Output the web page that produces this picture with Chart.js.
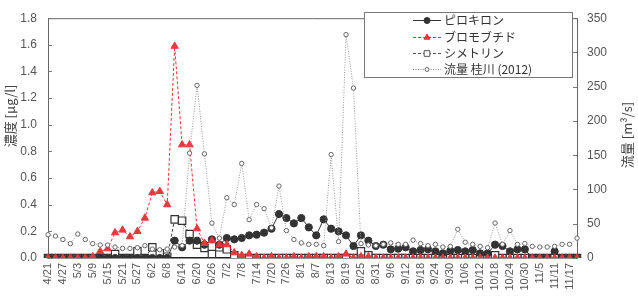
<!DOCTYPE html>
<html>
<head>
<meta charset="utf-8">
<script src="https://cdn.jsdelivr.net/npm/chart.js@4"></script>
<style>
    body { margin: 0; background: #fff; }
    canvas { display: block; }
</style>
</head>
<body>
<canvas id="chart" width="638" height="308"></canvas>
<script>
// sampling dates, every 3 days (2012)
const dates =
[
    '4/21', '4/24', '4/27', '4/30', '5/3', '5/6', '5/9', '5/12', '5/15', '5/18',
    '5/21', '5/24', '5/27', '5/30', '6/2', '6/5', '6/8', '6/11', '6/14', '6/17',
    '6/20', '6/23', '6/26', '6/29', '7/2', '7/5', '7/8', '7/11', '7/14', '7/17',
    '7/20', '7/23', '7/26', '7/29', '8/1', '8/4', '8/7', '8/10', '8/13', '8/16',
    '8/19', '8/22', '8/25', '8/28', '8/31', '9/3', '9/6', '9/9', '9/12', '9/15',
    '9/18', '9/21', '9/24', '9/27', '9/30', '10/3', '10/6', '10/9', '10/12', '10/15',
    '10/18', '10/21', '10/24', '10/27', '10/30', '11/2', '11/5', '11/8', '11/11', '11/14',
    '11/17', '11/20'
];

// concentrations [ug/l]
const pyroquilon =
[
    0, 0, 0, 0, 0, 0, 0, 0, 0, 0,
    0, 0, 0, 0, 0, 0, 0, 0.13, 0.08, 0.13,
    0.13, 0.10, 0.14, 0.10, 0.15, 0.14, 0.15, 0.17, 0.175, 0.19,
    0.22, 0.33, 0.30, 0.26, 0.30, 0.23, 0.17, 0.29, 0.22, 0.20,
    0.17, 0.09, 0.17, 0.13, 0.09, 0.10, 0.065, 0.07, 0.08, 0.05,
    0.06, 0.065, 0.05, 0.035, 0.055, 0.06, 0.05, 0.06, 0.035, 0.035,
    0.10, 0.09, 0.05, 0.065, 0.065, 0, 0, 0, 0.05, 0,
    0, 0
];

const bromobutide =
[
    0, 0, 0, 0, 0, 0, 0.01, 0.05, 0.07, 0.19,
    0.21, 0.16, 0.20, 0.30, 0.49, 0.50, 0.40, 1.59, 0.85, 0.85,
    0.22, 0.11, 0.13, 0.10, 0.10, 0.04, 0.02, 0.03, 0.01, 0,
    0.01, 0, 0, 0.01, 0, 0.01, 0.01, 0.01, 0, 0.01,
    0.03, 0, 0.01, 0.01, 0, 0, 0, 0, 0, 0,
    0, 0, 0, 0, 0, 0, 0, 0, 0, 0,
    0, 0, 0, 0, 0, 0, 0, 0, 0, 0,
    0, 0
];

const simetryn =
[
    0, 0, 0, 0, 0, 0, 0, 0, 0, 0.03,
    0, 0, 0.05, 0, 0.08, 0.035, 0.01, 0.29, 0.28, 0.18,
    0.10, 0.075, 0.03, 0.08, 0.065, 0.02, 0, 0, 0, 0,
    0, 0, 0, 0, 0, 0, 0, 0, 0, 0,
    0, 0, 0.05, 0.02, 0, 0, 0, 0, 0, 0,
    0, 0, 0, 0, 0, 0, 0, 0, 0, 0,
    0.02, 0, 0, 0, 0, 0, 0, 0, 0, 0,
    0, 0
];

// river flow, Katsura river [m3/s]
const flow =
[
    34, 32, 27, 21, 35, 27, 21, 19, 19, 16,
    14, 14, 15, 18, 13, 12, 13, 16, 18, 153,
    252, 152, 51, 29, 88, 78, 138, 56, 78, 72,
    44, 105, 40, 27, 22, 20, 20, 18, 151, 24,
    326, 248, 21, 19, 18, 20, 22, 20, 20, 26,
    21, 18, 20, 16, 17, 42, 23, 20, 17, 15,
    51, 20, 40, 20, 21, 17, 16, 16, 17, 20,
    20, 29
];

const concTicks = [0, 0.2, 0.4, 0.6, 0.8, 1.0, 1.2, 1.4, 1.6, 1.8];
const flowTicks = [0, 50, 100, 150, 200, 250, 300, 350];

const legendItems =
[
    { text: 'ピロキロン', color: '#333', dash: [], style: 'circle', radius: 3, fill: '#333' },
    { text: 'ブロモブチド', color: '#e8383d', dash: [3, 2], style: 'triangle', radius: 3.5, fill: '#e8383d' },
    { text: 'シメトリン', color: '#555', dash: [3, 2], style: 'rect', radius: 4, fill: '#fff' },
    { text: '流量 桂川 (2012)', color: '#888', dash: [1, 1.5], style: 'circle', radius: 2, fill: '#fff' }
];

const TICK_FONT = { family: 'Liberation Sans, Arial, sans-serif', size: 12 };
const JP_FONT = '"Noto Sans CJK JP", sans-serif';

const framePlugin =
{
    id: 'frame',
    afterDraw(chart)
    {
        const ctx = chart.ctx;
        const area = chart.chartArea;
        const yScale = chart.scales.y;
        const y1Scale = chart.scales.y1;

        ctx.save();

        // top border
        ctx.strokeStyle = '#666';
        ctx.lineWidth = 1;
        ctx.beginPath();
        ctx.moveTo(area.left, area.top + 0.5);
        ctx.lineTo(area.right, area.top + 0.5);
        ctx.stroke();

        // inward tick marks
        ctx.strokeStyle = '#777';
        ctx.beginPath();
        for (const v of concTicks)
        {
            const py = Math.round(yScale.getPixelForValue(v)) + 0.5;
            ctx.moveTo(area.left, py);
            ctx.lineTo(area.left + 4, py);
        }
        for (const v of flowTicks)
        {
            const py = Math.round(y1Scale.getPixelForValue(v)) + 0.5;
            ctx.moveTo(area.right - 4, py);
            ctx.lineTo(area.right, py);
        }
        ctx.stroke();

        // axis titles
        ctx.fillStyle = '#444';
        ctx.font = '13px ' + JP_FONT;
        ctx.textAlign = 'center';
        ctx.textBaseline = 'middle';

        ctx.save();
        ctx.translate(10, 116);
        ctx.rotate(-Math.PI / 2);
        ctx.fillText('濃度 [μg/l]', 0, 0);
        ctx.restore();

        ctx.save();
        ctx.translate(627, 135);
        ctx.rotate(-Math.PI / 2);
        ctx.fillText('流量 [m³/s]', 0, 0);
        ctx.restore();

        // legend box
        const box = { x: 364.5, y: 12.5, w: 208, h: 65 };
        ctx.fillStyle = '#fff';
        ctx.fillRect(box.x, box.y, box.w, box.h);
        ctx.strokeStyle = '#777';
        ctx.setLineDash([]);
        ctx.strokeRect(box.x, box.y, box.w, box.h);

        const rows = [20, 37, 53, 69];
        legendItems.forEach((item, i) =>
        {
            const ly = rows[i] + 0.5;
            ctx.strokeStyle = item.color;
            ctx.lineWidth = 1;
            ctx.setLineDash(item.dash);
            ctx.beginPath();
            ctx.moveTo(413, ly);
            ctx.lineTo(441, ly);
            ctx.stroke();
            ctx.setLineDash([]);

            ctx.fillStyle = item.fill;
            ctx.strokeStyle = item.color === '#888' ? '#666' : item.color;
            Chart.helpers.drawPoint(ctx, { pointStyle: item.style, radius: item.radius, borderWidth: 1, rotation: 0 }, 427, ly);

            ctx.fillStyle = '#333';
            ctx.font = '12px ' + JP_FONT;
            ctx.textAlign = 'left';
            ctx.textBaseline = 'middle';
            ctx.fillText(item.text, 444, ly);
        });

        ctx.restore();
    }
};

const data =
{
    labels: dates,
    datasets:
    [
        {
            label: 'ピロキロン',
            data: pyroquilon,
            yAxisID: 'y',
            borderColor: '#333',
            backgroundColor: '#333',
            borderWidth: 1,
            pointStyle: 'circle',
            pointRadius: 3.6,
            pointBorderWidth: 1,
            tension: 0,
            order: 3
        },
        {
            label: 'ブロモブチド',
            data: bromobutide,
            yAxisID: 'y',
            borderColor: '#e8383d',
            backgroundColor: '#e8383d',
            borderWidth: 1,
            borderDash: [3, 2],
            pointStyle: 'triangle',
            pointRadius: 4.2,
            pointBorderWidth: 1,
            tension: 0,
            order: 2
        },
        {
            label: 'シメトリン',
            data: simetryn,
            yAxisID: 'y',
            borderColor: '#444',
            backgroundColor: '#fff',
            pointBorderColor: '#333',
            borderWidth: 1,
            borderDash: [3, 2],
            pointStyle: 'rect',
            pointRadius: 5.2,
            pointBorderWidth: 1.2,
            tension: 0,
            order: 4
        },
        {
            label: '流量 桂川 (2012)',
            data: flow,
            yAxisID: 'y1',
            borderColor: '#999',
            backgroundColor: '#fff',
            pointBorderColor: '#666',
            borderWidth: 1,
            borderDash: [1, 1.5],
            pointStyle: 'circle',
            pointRadius: 2.2,
            pointBorderWidth: 1,
            tension: 0,
            order: 1
        }
    ]
};

const config =
{
    type: 'line',
    data: data,
    options:
    {
        responsive: false,
        animation: false,
        layout:
        {
            padding: { top: 8, left: 0, right: 0, bottom: 0 }
        },
        plugins:
        {
            legend: { display: false },
            tooltip: { enabled: false }
        },
        scales:
        {
            x:
            {
                offset: false,
                afterFit: scale => { scale.height = 50; },
                grid: { display: false, drawTicks: false },
                border: { display: true, color: '#222', width: 1.5 },
                ticks:
                {
                    autoSkip: false,
                    maxRotation: 90,
                    minRotation: 90,
                    padding: 5,
                    color: '#555',
                    font: { family: TICK_FONT.family, size: 11 },
                    callback: (val, idx) => idx % 2 === 0 ? dates[idx] : ''
                }
            },
            y:
            {
                position: 'left',
                min: 0,
                max: 1.8,
                afterFit: scale => { scale.width = 48; },
                afterBuildTicks: scale => { scale.ticks = concTicks.map(v => ({ value: v })); },
                grid: { display: false, drawTicks: false },
                border: { display: true, color: '#666', width: 1 },
                ticks:
                {
                    padding: 11,
                    color: '#555',
                    font: TICK_FONT,
                    callback: v => v.toFixed(1)
                }
            },
            y1:
            {
                position: 'right',
                min: 0,
                max: 350,
                afterFit: scale => { scale.width = 61; },
                afterBuildTicks: scale => { scale.ticks = flowTicks.map(v => ({ value: v })); },
                grid: { display: false, drawTicks: false },
                border: { display: true, color: '#666', width: 1 },
                ticks:
                {
                    padding: 10,
                    color: '#555',
                    font: TICK_FONT,
                    callback: v => String(v)
                }
            }
        }
    },
    plugins: [framePlugin]
};

const ctx = document.getElementById('chart').getContext('2d');
const chart = new Chart(ctx, config);
</script>
</body>
</html>
